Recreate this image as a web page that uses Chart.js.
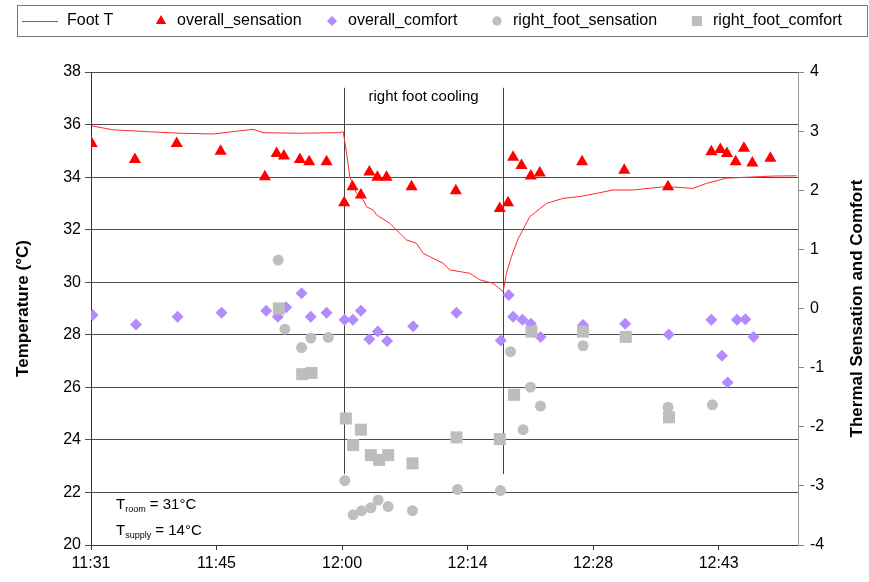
<!DOCTYPE html>
<html><head><meta charset="utf-8">
<script src="https://cdn.jsdelivr.net/npm/chart.js@4/dist/chart.umd.min.js"></script>
<style>html,body{margin:0;padding:0;background:#fff}#wrap{width:869px;height:582px}</style>
</head><body><div id="wrap"><canvas id="c" width="869" height="582"></canvas></div>
<script>
// ---- time axis (minutes after midnight) ----
const X_TICK_VALUES = [691.2, 705.6, 720, 734.4, 748.8, 763.2];
const X_TICK_LABELS = ['11:31', '11:45', '12:00', '12:14', '12:28', '12:43'];

// ---- Foot T (°C, left axis) ----
const footT_time = [691.28, 693.72, 697.59, 701.40, 705.19, 709.05, 709.77, 710.92, 714.78, 719.75, 720.13, 720.52, 720.89, 721.66, 722.42, 722.81, 723.57, 723.96, 725.48, 727.39, 728.54, 729.30, 730.07, 731.59, 732.36, 734.65, 735.80, 737.32, 738.47, 738.86, 739.43, 740.19, 741.53, 743.45, 745.35, 747.26, 749.18, 751.08, 753.38, 757.20, 760.25, 761.79, 764.08, 766.75, 769.43, 772.14];
const footT_value = [35.95, 35.80, 35.73, 35.67, 35.64, 35.79, 35.82, 35.69, 35.67, 35.69, 35.73, 34.91, 34.02, 33.38, 33.13, 32.87, 32.75, 32.56, 32.24, 31.61, 31.48, 31.10, 30.97, 30.72, 30.47, 30.34, 30.09, 29.96, 29.64, 30.34, 30.97, 31.65, 32.49, 33.00, 33.19, 33.26, 33.38, 33.51, 33.51, 33.64, 33.57, 33.76, 33.96, 34.00, 34.04, 34.05];

// ---- overall_sensation (right axis) ----
const oSens_time = [691.28, 696.24, 701.03, 706.07, 711.15, 712.49, 713.33, 715.16, 716.23, 718.22, 720.24, 721.20, 722.16, 723.13, 724.05, 725.10, 727.97, 733.05, 738.09, 739.04, 739.62, 740.58, 741.65, 742.68, 747.53, 752.37, 757.39, 762.36, 763.39, 764.15, 765.15, 766.10, 767.06, 769.13];
const oSens_value = [2.79, 2.52, 2.79, 2.66, 2.23, 2.62, 2.58, 2.52, 2.48, 2.48, 1.79, 2.06, 1.92, 2.31, 2.22, 2.22, 2.06, 1.99, 1.69, 1.79, 2.56, 2.42, 2.24, 2.29, 2.48, 2.34, 2.06, 2.65, 2.69, 2.62, 2.48, 2.71, 2.46, 2.54];

// ---- overall_comfort (right axis) ----
const oComf_time = [691.39, 696.36, 701.14, 706.18, 711.30, 712.63, 713.59, 715.36, 716.41, 718.22, 720.29, 721.24, 722.16, 723.13, 724.10, 725.17, 728.15, 733.13, 738.21, 739.12, 739.62, 740.69, 741.65, 742.76, 747.64, 752.48, 757.47, 762.36, 763.58, 764.23, 765.30, 766.26, 767.21];
const oComf_value = [-0.11, -0.27, -0.14, -0.07, -0.04, -0.14, 0.02, 0.26, -0.14, -0.07, -0.19, -0.19, -0.04, -0.52, -0.39, -0.55, -0.30, -0.07, -0.54, 0.23, -0.14, -0.19, -0.26, -0.48, -0.28, -0.26, -0.44, -0.19, -0.80, -1.25, -0.19, -0.18, -0.48];

// ---- right_foot_sensation (right axis) ----
const rfSens_time = [712.67, 713.44, 715.36, 716.42, 718.41, 720.32, 721.27, 722.24, 723.30, 724.14, 725.29, 728.08, 733.24, 738.17, 739.32, 740.76, 741.61, 742.76, 747.64, 752.54, 757.39, 762.48];
const rfSens_value = [0.82, -0.35, -0.66, -0.50, -0.49, -2.91, -3.49, -3.42, -3.37, -3.24, -3.35, -3.42, -3.06, -3.08, -0.73, -2.05, -1.33, -1.65, -0.63, -0.48, -1.67, -1.63];

// ---- right_foot_comfort (right axis) ----
const rfComf_time = [712.75, 715.43, 716.50, 720.44, 721.27, 722.16, 723.30, 724.25, 725.29, 728.08, 733.13, 738.09, 739.73, 741.73, 747.64, 752.54, 757.50];
const rfComf_value = [0.00, -1.11, -1.09, -1.86, -2.31, -2.05, -2.48, -2.56, -2.48, -2.62, -2.18, -2.21, -1.46, -0.39, -0.39, -0.48, -1.84];

// ---- annotation (cooling period) ----
const COOLING_START = 720.2, COOLING_END = 738.5;
const COOLING_TOP_T = 37.4, COOLING_BOTTOM_T = 22.7, COOLING_LABEL_T = 37.05;
const COOLING_LABEL = 'right foot cooling';
const NOTE_ROOM = ['T', 'room', ' = 31°C'];
const NOTE_SUPPLY = ['T', 'supply', ' = 14°C'];

const pts = (xs, ys) => xs.map((x, i) => ({x, y: ys[i]}));
const FONT = '"Liberation Sans", Arial, sans-serif';

const datasets = [
  {label: 'Foot T', data: pts(footT_time, footT_value), showLine: true, borderColor: '#ff2a2a', borderWidth: 1, pointRadius: 0, yAxisID: 'y', order: 5, legendType: 'line'},
  {label: 'overall_sensation', data: pts(oSens_time, oSens_value), pointStyle: 'triangle', pointRadius: 7, backgroundColor: '#ff0000', borderColor: '#ff0000', borderWidth: 0, yAxisID: 'y2', order: 4},
  {label: 'overall_comfort', data: pts(oComf_time, oComf_value), pointStyle: 'rectRot', pointRadius: 6, backgroundColor: '#b48aff', borderColor: '#b48aff', borderWidth: 0, yAxisID: 'y2', order: 3},
  {label: 'right_foot_sensation', data: pts(rfSens_time, rfSens_value), pointStyle: 'circle', pointRadius: 5.5, backgroundColor: '#bfbfbf', borderColor: '#bfbfbf', borderWidth: 0, yAxisID: 'y2', order: 2},
  {label: 'right_foot_comfort', data: pts(rfComf_time, rfComf_value), pointStyle: 'rect', pointRadius: 8.5, backgroundColor: '#bdbdbd', borderColor: '#bdbdbd', borderWidth: 0, yAxisID: 'y2', order: 1}
];

function drawMarker(ctx, ds, x, y) {
  ctx.save();
  ctx.fillStyle = ds.backgroundColor;
  ctx.strokeStyle = ds.backgroundColor;
  Chart.helpers.drawPoint(ctx, {pointStyle: ds.pointStyle, radius: ds.pointRadius * 0.85, rotation: 0, borderWidth: 0}, x, y);
  ctx.restore();
}

const decor = {
  id: 'decor',
  beforeDatasetsDraw(chart) {
    const {ctx, scales: {x, y}} = chart;
    ctx.save();
    ctx.strokeStyle = '#444';
    ctx.lineWidth = 1;
    [COOLING_START, COOLING_END].forEach(v => {
      const px = Math.round(x.getPixelForValue(v)) + 0.5;
      ctx.beginPath();
      ctx.moveTo(px, y.getPixelForValue(COOLING_TOP_T));
      ctx.lineTo(px, y.getPixelForValue(COOLING_BOTTOM_T));
      ctx.stroke();
    });
    ctx.fillStyle = '#000';
    ctx.font = '15px ' + FONT;
    ctx.textAlign = 'center';
    ctx.textBaseline = 'middle';
    ctx.fillText(COOLING_LABEL, (x.getPixelForValue(COOLING_START) + x.getPixelForValue(COOLING_END)) / 2, y.getPixelForValue(COOLING_LABEL_T));
    ctx.restore();
  },
  afterDraw(chart) {
    const {ctx, chartArea} = chart;
    ctx.save();
    // axis titles
    ctx.fillStyle = '#000';
    ctx.font = 'bold 17px ' + FONT;
    ctx.textAlign = 'center';
    ctx.textBaseline = 'middle';
    const cy = (chartArea.top + chartArea.bottom) / 2;
    ctx.save(); ctx.translate(23, cy); ctx.rotate(-Math.PI / 2); ctx.fillText('Temperature (°C)', 0, 0); ctx.restore();
    ctx.save(); ctx.translate(857, cy); ctx.rotate(-Math.PI / 2); ctx.fillText('Thermal Sensation and Comfort', 0, 0); ctx.restore();

    // note texts with subscripts
    const note = (parts, px, py) => {
      ctx.fillStyle = '#000';
      ctx.textAlign = 'left'; ctx.textBaseline = 'alphabetic';
      ctx.font = '15px ' + FONT; ctx.fillText(parts[0], px, py);
      let w = ctx.measureText(parts[0]).width;
      ctx.font = '9px ' + FONT; ctx.fillText(parts[1], px + w, py + 3);
      w += ctx.measureText(parts[1]).width;
      ctx.font = '15px ' + FONT; ctx.fillText(parts[2], px + w, py);
    };
    note(NOTE_ROOM, 116, 509);
    note(NOTE_SUPPLY, 116, 535);

    // legend
    ctx.strokeStyle = '#777';
    ctx.lineWidth = 1;
    ctx.strokeRect(17.5, 5.5, 850, 31);
    const markerX = [40, 161, 332, 497, 697];
    const ly = 21;
    ctx.font = '16px ' + FONT;
    ctx.textBaseline = 'middle';
    ctx.textAlign = 'left';
    chart.data.datasets.forEach((ds, i) => {
      const mx = markerX[i];
      if (ds.legendType === 'line') {
        ctx.save();
        ctx.strokeStyle = ds.borderColor; ctx.lineWidth = 1;
        ctx.beginPath(); ctx.moveTo(mx - 18, ly + 0.5); ctx.lineTo(mx + 18, ly + 0.5); ctx.stroke();
        ctx.restore();
        ctx.fillStyle = '#000';
        ctx.fillText(ds.label, mx + 27, ly);
      } else {
        drawMarker(ctx, ds, mx, ly);
        ctx.fillStyle = '#000';
        ctx.fillText(ds.label, mx + 16, ly);
      }
    });
    ctx.restore();
  }
};

new Chart(document.getElementById('c'), {
  type: 'scatter',
  data: {datasets},
  options: {
    responsive: false,
    animation: false,
    layout: {padding: {top: 72, left: 0, right: 0, bottom: 0}},
    plugins: {legend: {display: false}, tooltip: {enabled: false}},
    scales: {
      x: {
        type: 'linear', position: 'bottom', min: 691.2, max: 772.3,
        afterBuildTicks: s => { s.ticks = X_TICK_VALUES.map(v => ({value: v})); },
        afterFit: s => { s.height = 37; },
        ticks: {callback: (v, i) => X_TICK_LABELS[i], font: {size: 16, family: FONT}, color: '#000', padding: 4, maxRotation: 0, autoSkip: false},
        grid: {drawOnChartArea: false, tickLength: 5, color: '#333'},
        border: {color: '#333', width: 1}
      },
      y: {
        position: 'left', min: 20, max: 38,
        afterFit: s => { s.width = 91; },
        ticks: {stepSize: 2, font: {size: 16, family: FONT}, color: '#000', padding: 4},
        grid: {color: '#4d4d4d', tickLength: 6, lineWidth: 1},
        border: {color: '#333', width: 1}
      },
      y2: {
        position: 'right', min: -4, max: 4,
        afterFit: s => { s.width = 71; },
        ticks: {stepSize: 1, font: {size: 16, family: FONT}, color: '#000', padding: 6},
        grid: {drawOnChartArea: false, tickLength: 6, color: '#888'},
        border: {color: '#999', width: 1}
      }
    }
  },
  plugins: [decor]
});
</script>
</body></html>
